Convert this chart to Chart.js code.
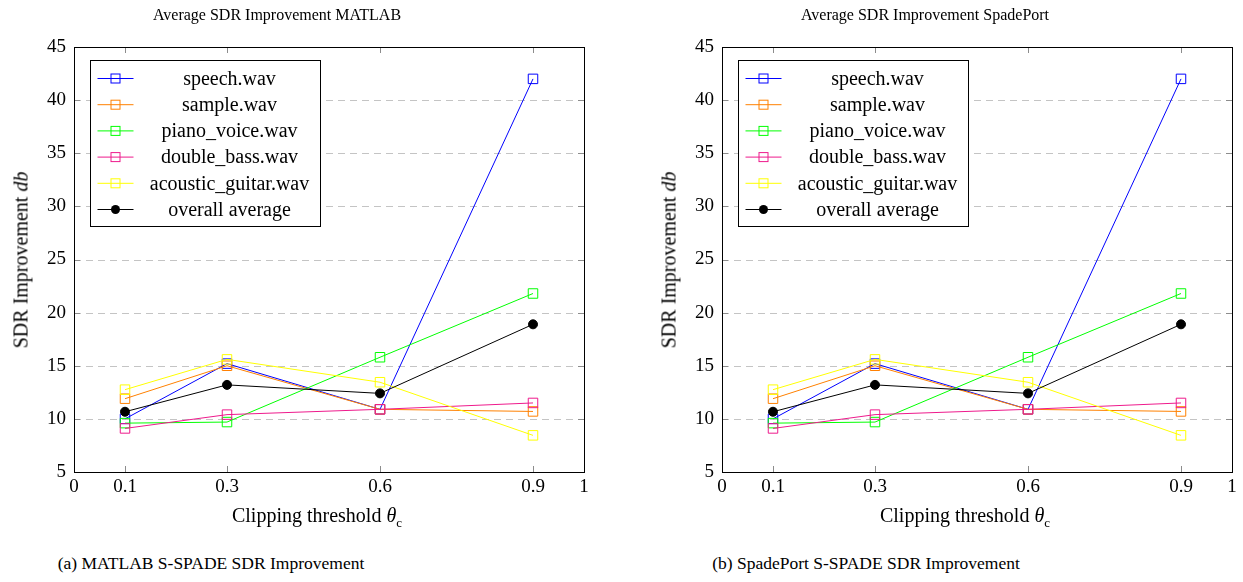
<!DOCTYPE html>
<html>
<head>
<meta charset="utf-8">
<script src="https://cdn.jsdelivr.net/npm/chart.js@4.4.1/dist/chart.umd.min.js"></script>
<style>
body{margin:0;background:#fff;width:1243px;height:582px;position:relative;overflow:hidden;font-family:"Liberation Serif",serif;color:#000;}
canvas{position:absolute;top:0;}
.txt{position:absolute;white-space:nowrap;transform:translate(-50%,-50%);font-size:16px;}
.axt{font-size:20px;}
.ylab{transform:translate(-50%,-50%) rotate(-90deg);}
.cap{font-size:17.5px;}
</style>
</head>
<body>
<canvas id="chartA" width="621" height="540" style="left:0"></canvas>
<canvas id="chartB" width="595" height="540" style="left:648px"></canvas>

<div class="txt" style="left:277px;top:15px">Average SDR Improvement MATLAB</div>
<div class="txt" style="left:925px;top:15px">Average SDR Improvement SpadePort</div>
<div class="txt axt ylab" style="left:21px;top:260px">SDR Improvement <i>db</i></div>
<div class="txt axt ylab" style="left:669px;top:260px">SDR Improvement <i>db</i></div>
<div class="txt axt" style="left:317px;top:517px">Clipping threshold <i>θ</i><sub style="font-size:13px">c</sub></div>
<div class="txt axt" style="left:965px;top:517px">Clipping threshold <i>θ</i><sub style="font-size:13px">c</sub></div>
<div class="txt cap" style="left:211px;top:563px">(a) MATLAB S-SPADE SDR Improvement</div>
<div class="txt cap" style="left:866px;top:563px">(b) SpadePort S-SPADE SDR Improvement</div>

<script>
// clipping thresholds and axis ticks
const thresholds=[0.1,0.3,0.6,0.9];
const xTicks=[0,0.1,0.3,0.6,0.9,1];
const yTicks=[5,10,15,20,25,30,35,40,45];

// SDR improvement per file (same in both panels)
const seriesNames=["speech.wav","sample.wav","piano_voice.wav","double_bass.wav","acoustic_guitar.wav","overall average"];
const speech=[10.0,15.2,10.9,42.0];
const sample=[11.9,15.0,10.9,10.7];
const pianoVoice=[9.6,9.7,15.8,21.8];
const doubleBass=[9.1,10.4,10.9,11.5];
const acousticGuitar=[12.75,15.6,13.45,8.45];
const overallAverage=[10.67,13.2,12.4,18.9];

const allSeries=[speech,sample,pianoVoice,doubleBass,acousticGuitar,overallAverage];
const colors=["#0000ff","#ff8000","#00ff00","#ee1a8c","#ffff00","#000000"];

function makeDatasets(){
return allSeries.map((vals,i)=>{
const avg=i===5;
return{
label:seriesNames[i],
data:thresholds.map((x,j)=>({x:x,y:vals[j]})),
borderColor:colors[i],
borderWidth:1,
tension:0,
pointStyle:avg?"circle":"rect",
pointRadius:avg?4.5:6.7,
pointBorderWidth:1,
pointBorderColor:colors[i],
pointBackgroundColor:avg?"#000":"rgba(0,0,0,0)",
order:5-i
};
});
}

const framePlugin={
id:"frame",
beforeDatasetsDraw(chart){
const {ctx,chartArea:a,scales:{x,y}}=chart;
ctx.save();
ctx.lineWidth=1;
ctx.strokeStyle="#c4c4c4";
ctx.setLineDash([7,5]);
y.ticks.forEach(t=>{
if(t.value<=yTicks[0]||t.value>=yTicks[yTicks.length-1]) return;
const py=Math.round(y.getPixelForValue(t.value))+0.5;
ctx.beginPath();ctx.moveTo(a.left,py);ctx.lineTo(a.right,py);ctx.stroke();
});
ctx.setLineDash([]);
ctx.strokeStyle="#8c8c8c";
y.ticks.forEach(t=>{
const py=Math.round(y.getPixelForValue(t.value))+0.5;
ctx.beginPath();
ctx.moveTo(a.left,py);ctx.lineTo(a.left+6,py);
ctx.moveTo(a.right,py);ctx.lineTo(a.right-6,py);
ctx.stroke();
});
x.ticks.forEach(t=>{
if(t.value<=0||t.value>=1) return;
const px=Math.round(x.getPixelForValue(t.value))+0.5;
ctx.beginPath();
ctx.moveTo(px,a.bottom);ctx.lineTo(px,a.bottom-6);
ctx.moveTo(px,a.top);ctx.lineTo(px,a.top+6);
ctx.stroke();
});
ctx.restore();
},
afterDatasetsDraw(chart){
const {ctx,chartArea:a}=chart;
ctx.save();
ctx.strokeStyle="#000";
ctx.lineWidth=1;
ctx.strokeRect(Math.round(a.left)+0.5,Math.round(a.top)+0.5,Math.round(a.right-a.left),Math.round(a.bottom-a.top));
ctx.restore();
}
};

// legend box inside the plot, top left
const boxLegend={
id:"boxLegend",
afterDraw(chart){
const {ctx,chartArea:a}=chart;
const bx=Math.round(a.left)+16.5,by=Math.round(a.top)+13.5,bw=230,bh=166,rowH=26.2;
ctx.save();
ctx.fillStyle="#fff";
ctx.fillRect(bx,by,bw,bh);
ctx.strokeStyle="#000";ctx.lineWidth=1;
ctx.strokeRect(bx,by,bw,bh);
ctx.font="20px 'Liberation Serif', serif";
ctx.textAlign="center";ctx.textBaseline="middle";
chart.data.datasets.forEach((ds,i)=>{
const cy=by+18+i*rowH;
ctx.strokeStyle=ds.borderColor;
ctx.beginPath();ctx.moveTo(bx+7,cy);ctx.lineTo(bx+43,cy);ctx.stroke();
if(ds.pointStyle==="circle"){
ctx.fillStyle=ds.borderColor;
ctx.beginPath();ctx.arc(bx+25,cy,4.5,0,Math.PI*2);ctx.fill();
}else{
ctx.strokeRect(bx+20.5,cy-4.5,9,9);
}
ctx.fillStyle="#000";
ctx.fillText(ds.label,bx+139,cy+1);
});
ctx.restore();
}
};

function makeChart(id,padRight){
return new Chart(document.getElementById(id),{
type:"line",
data:{datasets:makeDatasets()},
options:{
responsive:false,
animation:false,
events:[],
layout:{padding:{top:47,right:padRight,left:0,bottom:0}},
plugins:{legend:{display:false},tooltip:{enabled:false},title:{display:false}},
scales:{
x:{
type:"linear",min:0,max:1,
afterBuildTicks:s=>{s.ticks=xTicks.map(v=>({value:v}));},
afterFit:s=>{s.height=68;},
grid:{display:false,drawTicks:false},
border:{display:false},
ticks:{padding:4,color:"#000",font:{family:"Liberation Serif",size:19},maxRotation:0,autoSkip:false,
callback:v=>String(v)}
},
y:{
type:"linear",min:5,max:45,
afterBuildTicks:s=>{s.ticks=yTicks.map(v=>({value:v}));},
afterFit:s=>{s.width=74;},
grid:{display:false,drawTicks:false},
border:{display:false},
ticks:{padding:8,color:"#000",font:{family:"Liberation Serif",size:19}}
}
}
},
plugins:[framePlugin,boxLegend]
});
}

makeChart("chartA",37);
makeChart("chartB",11);
</script>
</body>
</html>
